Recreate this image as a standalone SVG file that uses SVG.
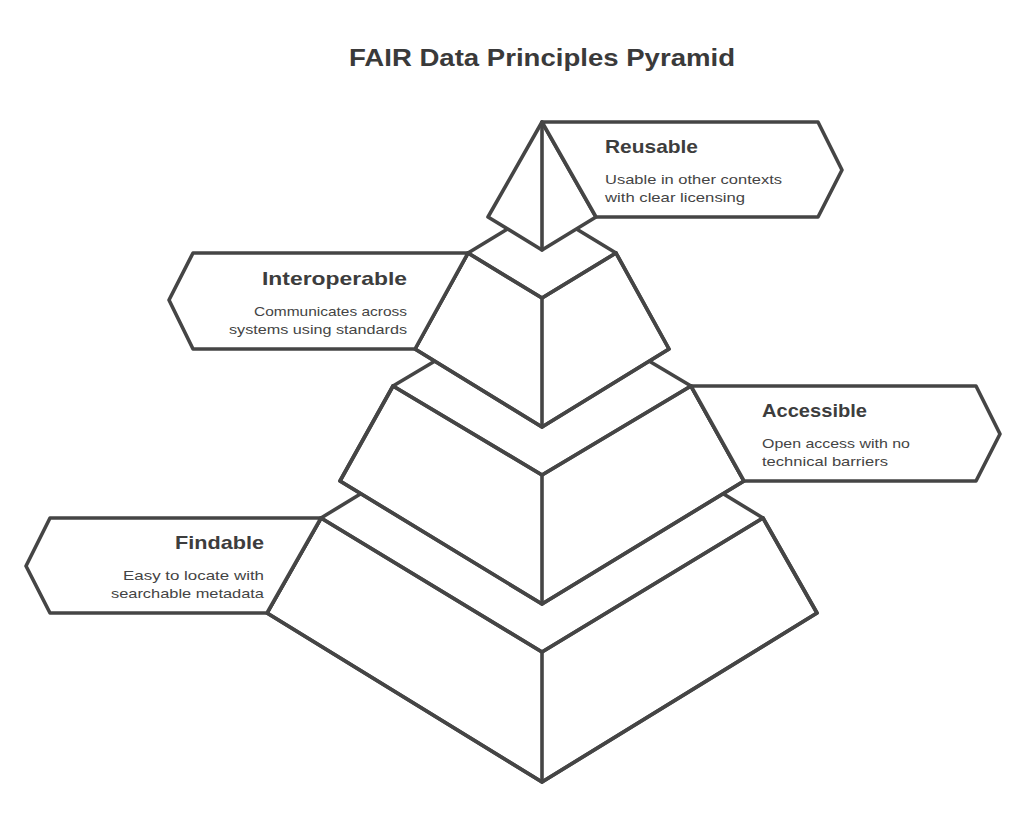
<svg xmlns="http://www.w3.org/2000/svg" width="1024" height="833" viewBox="0 0 1024 833">
<style>
.ln{fill:none;stroke:#454545;stroke-width:3.6;stroke-linejoin:round;stroke-linecap:round}
.sh{fill:#ffffff;stroke:#454545;stroke-width:3.6;stroke-linejoin:round;stroke-linecap:round}
.ttl{font-family:"Liberation Sans",Arial,sans-serif;font-weight:bold;font-size:24px;fill:#3a3a3a}
.h{font-family:"Liberation Sans",Arial,sans-serif;font-weight:bold;font-size:19px;fill:#3d3d3d}
.d{font-family:"Liberation Sans",Arial,sans-serif;font-size:13.5px;fill:#444444}
</style>
<rect width="1024" height="833" fill="#ffffff"/>
<g id="title">
<text class="ttl" x="542" y="66" text-anchor="middle" textLength="386" lengthAdjust="spacingAndGlyphs">FAIR Data Principles Pyramid</text>
</g>
<g id="connectors"></g>
<g id="level-findable">
<polygon class="sh" points="321,518 542,652 763,518 817,613 542,782 267,613"/>
<polyline class="ln" points="362,493 321,518 267,613 542,782 817,613 763,518 722,493"/>
<polyline class="ln" points="321,518 542,652 763,518"/>
<line class="ln" x1="542" y1="652" x2="542" y2="782"/>
<polygon class="sh" points="321,518 50,518 26,566 50,613 267,613"/>
<text class="h" x="264" y="549" text-anchor="end" textLength="89" lengthAdjust="spacingAndGlyphs">Findable</text>
<text class="d" x="264" y="580" text-anchor="end" textLength="141" lengthAdjust="spacingAndGlyphs">Easy to locate with</text>
<text class="d" x="264" y="598" text-anchor="end" textLength="153" lengthAdjust="spacingAndGlyphs">searchable metadata</text>
</g>
<g id="level-accessible">
<polygon class="sh" points="393,386 542,475 691,386 744,481 542,604 340,481"/>
<polyline class="ln" points="435,361 393,386 340,481 542,604 744,481 691,386 649,361"/>
<polyline class="ln" points="393,386 542,475 691,386"/>
<line class="ln" x1="542" y1="475" x2="542" y2="604"/>
<polygon class="sh" points="691,386 976,386 1000,434 976,481 744,481"/>
<text class="h" x="762" y="417" textLength="105" lengthAdjust="spacingAndGlyphs">Accessible</text>
<text class="d" x="762" y="448" textLength="148" lengthAdjust="spacingAndGlyphs">Open access with no</text>
<text class="d" x="762" y="466" textLength="126" lengthAdjust="spacingAndGlyphs">technical barriers</text>
</g>
<g id="level-interoperable">
<polygon class="sh" points="468,253 542,298 616,253 669,349 542,427 415,349"/>
<polyline class="ln" points="507.5,229 468,253 415,349 542,427 669,349 616,253 576.5,229"/>
<polyline class="ln" points="468,253 542,298 616,253"/>
<line class="ln" x1="542" y1="298" x2="542" y2="427"/>
<polygon class="sh" points="468,253 193,253 169,300 193,349 415,349"/>
<text class="h" x="407" y="285" text-anchor="end" textLength="145" lengthAdjust="spacingAndGlyphs">Interoperable</text>
<text class="d" x="407" y="316" text-anchor="end" textLength="153" lengthAdjust="spacingAndGlyphs">Communicates across</text>
<text class="d" x="407" y="334" text-anchor="end" textLength="178" lengthAdjust="spacingAndGlyphs">systems using standards</text>
</g>
<g id="level-reusable">
<polygon class="sh" points="542,122 596,217 542,250 488,217"/>
<line class="ln" x1="542" y1="122" x2="542" y2="250"/>
<polygon class="sh" points="542,122 818,122 842,170 818,217 596,217"/>
<text class="h" x="605" y="153" textLength="93" lengthAdjust="spacingAndGlyphs">Reusable</text>
<text class="d" x="605" y="184" textLength="177" lengthAdjust="spacingAndGlyphs">Usable in other contexts</text>
<text class="d" x="605" y="202" textLength="140" lengthAdjust="spacingAndGlyphs">with clear licensing</text>
</g>
</svg>
